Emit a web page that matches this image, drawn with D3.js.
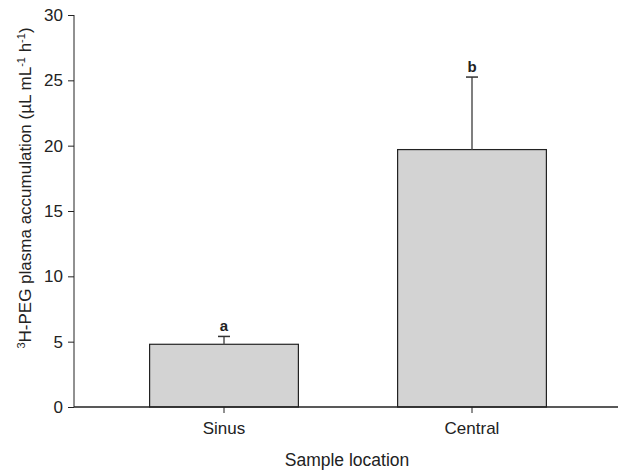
<!DOCTYPE html>
<html>
<head>
<meta charset="utf-8">
<script src="https://cdn.jsdelivr.net/npm/d3@7"></script>
<style>
  body { margin: 0; background: #fff; }
  text { font-family: "Liberation Sans", Arial, sans-serif; fill: #222; }
</style>
</head>
<body>
<div id="chart-area"></div>
<script>
// values
let locations = ["Sinus", "Central"]
let accumulation = [4.8, 19.7]
let errors = [0.6, 5.55]
let letters = ["a", "b"]
let yTicks = [0, 5, 10, 15, 20, 25, 30]

let width = 619, height = 475

let svg = d3.select("#chart-area").append("svg")
  .attr("width", width)
  .attr("height", height)

let data = locations.map((name, i) => {
  return { name: name, value: accumulation[i], err: errors[i], letter: letters[i] }
})

let y = d3.scaleLinear().domain([0, 30]).range([407, 15])

let x = d3.scaleBand()
  .domain(locations)
  .range([100, 596])
  .paddingInner(0.4)
  .paddingOuter(0.2)

// y axis
let yAxis = svg.append("g")
  .attr("transform", "translate(74,0)")
  .call(d3.axisLeft(y).tickValues(yTicks).tickSize(6).tickPadding(5))
yAxis.select(".domain").remove()
yAxis.selectAll("line").attr("stroke", "#222")
yAxis.selectAll("text").style("font-size", "17px")

svg.append("line")
  .attr("x1", 74).attr("x2", 74)
  .attr("y1", y(30)).attr("y2", y(0))
  .attr("stroke", "#222")

// bars
svg.selectAll("rect.bar")
  .data(data)
  .enter()
  .append("rect")
    .attr("class", "bar")
    .attr("x", d => x(d.name))
    .attr("y", d => y(d.value))
    .attr("width", x.bandwidth())
    .attr("height", d => y(0) - y(d.value))
    .attr("fill", "#d3d3d3")
    .attr("stroke", "#222")
    .attr("stroke-width", 1.2)

// error bars (upper only)
let errG = svg.selectAll("g.err")
  .data(data)
  .enter()
  .append("g")
    .attr("class", "err")

errG.append("line")
  .attr("x1", d => x(d.name) + x.bandwidth() / 2)
  .attr("x2", d => x(d.name) + x.bandwidth() / 2)
  .attr("y1", d => y(d.value))
  .attr("y2", d => y(d.value + d.err))
  .attr("stroke", "#555")
  .attr("stroke-width", 1.5)

errG.append("line")
  .attr("x1", d => x(d.name) + x.bandwidth() / 2 - 6)
  .attr("x2", d => x(d.name) + x.bandwidth() / 2 + 6)
  .attr("y1", d => y(d.value + d.err))
  .attr("y2", d => y(d.value + d.err))
  .attr("stroke", "#333")
  .attr("stroke-width", 1.5)

errG.append("text")
  .attr("x", d => x(d.name) + x.bandwidth() / 2)
  .attr("y", d => y(d.value + d.err) - 5)
  .attr("text-anchor", "middle")
  .style("font-size", "15px")
  .style("font-weight", "bold")
  .text(d => d.letter)

// x axis
let xAxis = svg.append("g")
  .attr("transform", "translate(0,407)")
  .call(d3.axisBottom(x).tickSize(6).tickPadding(9))
xAxis.select(".domain").remove()
xAxis.selectAll("line").attr("stroke", "#222")
xAxis.selectAll("text").style("font-size", "17px")

svg.append("line")
  .attr("x1", 74).attr("x2", 618)
  .attr("y1", 407).attr("y2", 407)
  .attr("stroke", "#222")
  .attr("stroke-width", 1.3)

// axis titles
svg.append("text")
  .attr("x", 347)
  .attr("y", 466)
  .attr("text-anchor", "middle")
  .style("font-size", "17.5px")
  .text("Sample location")

let yLabel = svg.append("text")
  .attr("transform", "translate(31,188) rotate(-90)")
  .attr("text-anchor", "middle")
  .style("font-size", "17px")

yLabel.append("tspan").attr("baseline-shift", "super").style("font-size", "11px").text("3")
yLabel.append("tspan").text("H-PEG plasma accumulation (µL mL")
yLabel.append("tspan").attr("baseline-shift", "super").style("font-size", "11px").text("-1")
yLabel.append("tspan").text(" h")
yLabel.append("tspan").attr("baseline-shift", "super").style("font-size", "11px").text("-1")
yLabel.append("tspan").text(")")
</script>
</body>
</html>
